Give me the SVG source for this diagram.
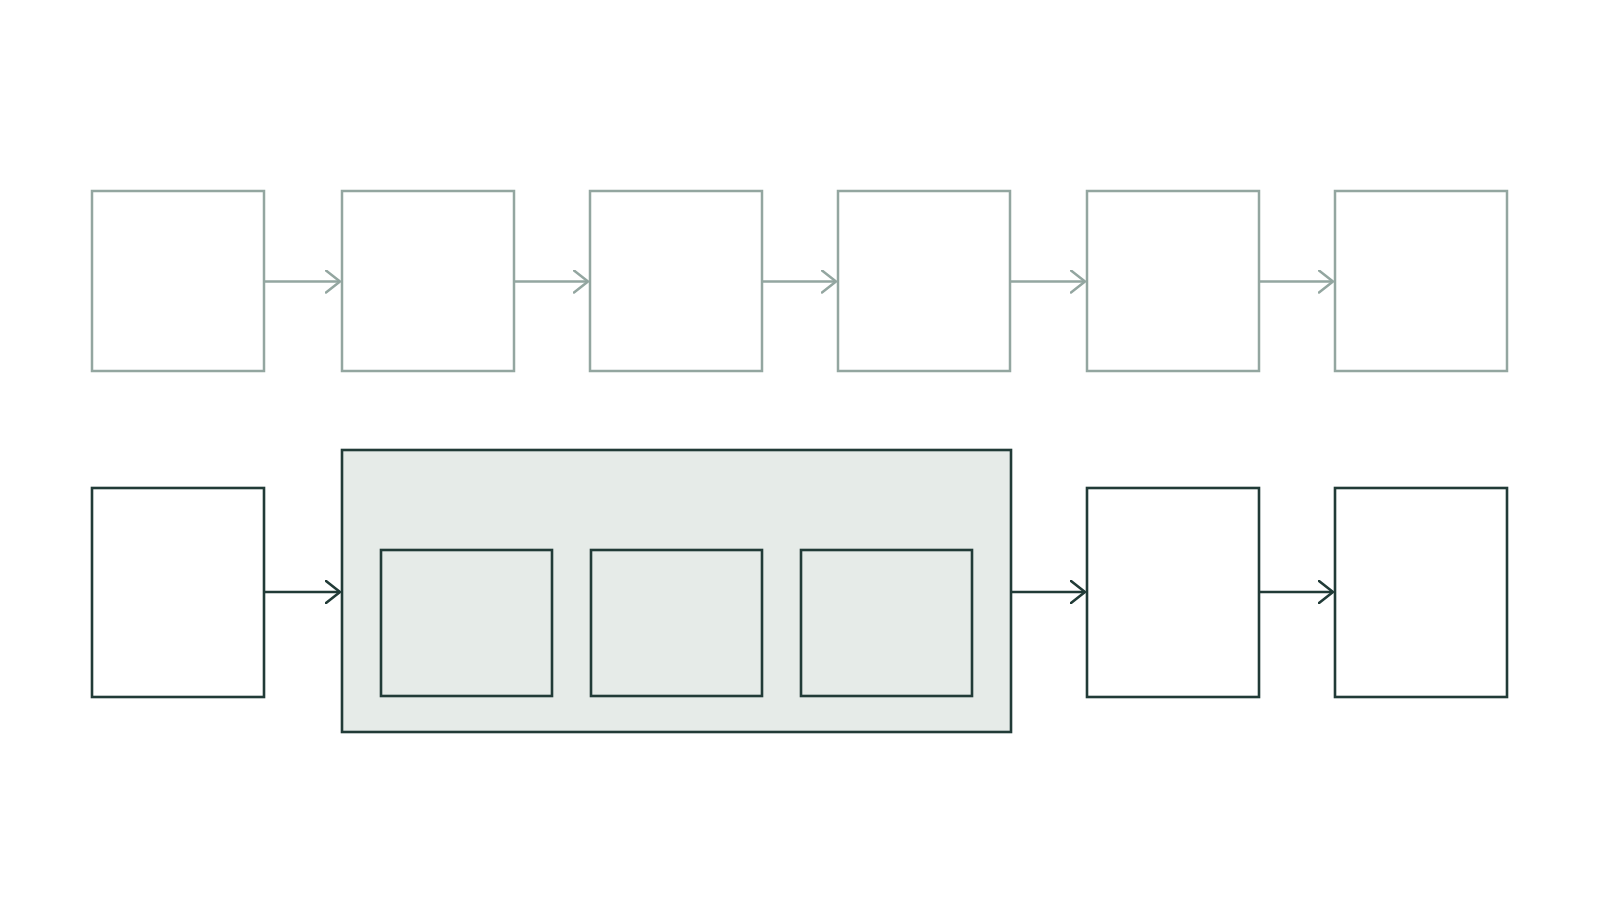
<svg xmlns="http://www.w3.org/2000/svg" width="1600" height="900" viewBox="0 0 1600 900">
<style>
.lt{fill:#ffffff;stroke:#93a6a0;stroke-width:2.5}
.dk{fill:#ffffff;stroke:#213b37;stroke-width:2.6}
.grp{fill:#e6ebe8;stroke:#213b37;stroke-width:2.6}
.inner{fill:#e6ebe8;stroke:#213b37;stroke-width:2.6}
.cl{stroke:#93a6a0;stroke-width:2.5;fill:none}
.cd{stroke:#213b37;stroke-width:2.6;fill:none}
</style>
<defs>
<marker id="al" viewBox="0 0 16 24" refX="15" refY="12" markerWidth="16" markerHeight="24" markerUnits="userSpaceOnUse" orient="auto">
<path d="M1,1 L15,12 L1,23" fill="none" stroke="#93a6a0" stroke-width="2.5" stroke-linecap="round" stroke-linejoin="round"/>
</marker>
<marker id="ad" viewBox="0 0 16 24" refX="15" refY="12" markerWidth="16" markerHeight="24" markerUnits="userSpaceOnUse" orient="auto">
<path d="M1,1 L15,12 L1,23" fill="none" stroke="#213b37" stroke-width="2.6" stroke-linecap="round" stroke-linejoin="round"/>
</marker>
</defs>
<rect width="1600" height="900" fill="#ffffff"/>
<g id="top-1"><rect class="lt" x="92" y="191" width="172" height="180"/></g>
<g id="top-2"><rect class="lt" x="342" y="191" width="172" height="180"/></g>
<g id="top-3"><rect class="lt" x="590" y="191" width="172" height="180"/></g>
<g id="top-4"><rect class="lt" x="838" y="191" width="172" height="180"/></g>
<g id="top-5"><rect class="lt" x="1087" y="191" width="172" height="180"/></g>
<g id="top-6"><rect class="lt" x="1335" y="191" width="172" height="180"/></g>
<g id="bottom-1"><rect class="dk" x="92" y="488" width="172" height="209"/></g>
<g id="bottom-group">
<rect class="grp" x="342" y="450" width="669" height="282"/>
<g id="inner-1"><rect class="inner" x="381" y="550" width="171" height="146"/></g>
<g id="inner-2"><rect class="inner" x="591" y="550" width="171" height="146"/></g>
<g id="inner-3"><rect class="inner" x="801" y="550" width="171" height="146"/></g>
</g>
<g id="bottom-3"><rect class="dk" x="1087" y="488" width="172" height="209"/></g>
<g id="bottom-4"><rect class="dk" x="1335" y="488" width="172" height="209"/></g>
<g id="connectors">
<line class="cl" x1="264" y1="281.5" x2="340" y2="281.5" marker-end="url(#al)"/>
<line class="cl" x1="514" y1="281.5" x2="588" y2="281.5" marker-end="url(#al)"/>
<line class="cl" x1="762" y1="281.5" x2="836" y2="281.5" marker-end="url(#al)"/>
<line class="cl" x1="1010" y1="281.5" x2="1085" y2="281.5" marker-end="url(#al)"/>
<line class="cl" x1="1259" y1="281.5" x2="1333" y2="281.5" marker-end="url(#al)"/>
<line class="cd" x1="264" y1="592" x2="340" y2="592" marker-end="url(#ad)"/>
<line class="cd" x1="1011" y1="592" x2="1085" y2="592" marker-end="url(#ad)"/>
<line class="cd" x1="1259" y1="592" x2="1333" y2="592" marker-end="url(#ad)"/>
</g>
</svg>
